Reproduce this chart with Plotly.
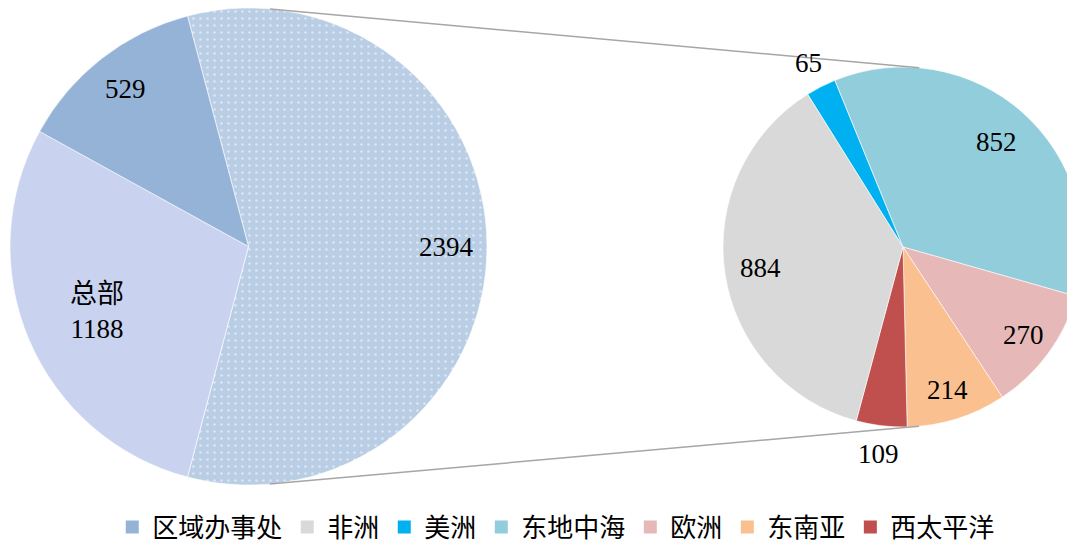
import math
import plotly.graph_objects as go

# ---------------- data ----------------
main_labels = ["其他地区", "总部", "区域办事处"]
main_values = [2394, 1188, 529]
main_text = ["2394", "总部<br>1188", "529"]

sub_labels = ["美洲", "东地中海", "欧洲", "东南亚", "西太平洋", "非洲"]
sub_values = [65, 852, 270, 214, 109, 884]

legend_labels = ["区域办事处", "非洲", "美洲", "东地中海", "欧洲", "东南亚", "西太平洋"]

# ---------------- styles / layout ----------------
W, H = 1075, 543
FONT = "Liberation Serif, 'Times New Roman', 'Noto Sans CJK SC', serif"
color_map = {
    "其他地区": "#B9CDE5",
    "总部": "#C9D3F0",
    "区域办事处": "#95B3D7",
    "非洲": "#D9D9D9",
    "美洲": "#00B0F0",
    "东地中海": "#92CDDC",
    "欧洲": "#E6B9B8",
    "东南亚": "#FAC090",
    "西太平洋": "#C0504D",
}
# label distance from centre, as a fraction of the radius
main_label_r = [0.83, 0.69, 0.84]
sub_label_r = [1.15, 0.78, 0.83, 0.83, 1.16, 0.80]

# pie domains (paper fractions)
main_dom_x = [2 / W, 479 / W]
main_dom_y = [1 - 477 / H, 1.0]
sub_dom_x = [715 / W, 1.0]
sub_dom_y = [1 - 419 / H, 1 - 59 / H]

main_total = sum(main_values)
main_rotation = 90 - 0.5 * 360 * main_values[0] / main_total  # "other" slice centred at 3 o'clock
sub_rotation = -32

fig = go.Figure()

fig.add_trace(go.Pie(
    labels=main_labels, values=main_values, sort=False, direction="clockwise",
    rotation=main_rotation, domain=dict(x=main_dom_x, y=main_dom_y),
    textinfo="none", showlegend=False,
    marker=dict(
        colors=[color_map[l] for l in main_labels],
        line=dict(color="white", width=0.6),
        pattern=dict(shape=[".", "", ""], fgcolor="white",
                     bgcolor=[color_map[l] for l in main_labels],
                     size=7, solidity=0.12, fillmode="overlay"),
    ),
))

fig.add_trace(go.Pie(
    labels=sub_labels, values=sub_values, sort=False, direction="clockwise",
    rotation=sub_rotation, domain=dict(x=sub_dom_x, y=sub_dom_y),
    textinfo="none", showlegend=False,
    marker=dict(colors=[color_map[l] for l in sub_labels],
                line=dict(color="white", width=0.6)),
))

# legend entries
for lab in legend_labels:
    fig.add_trace(go.Scatter(
        x=[None], y=[None], mode="markers", name=lab,
        marker=dict(symbol="square", size=13, color=color_map[lab]),
    ))


def pie_geom(dx, dy):
    cx = W * (dx[0] + dx[1]) / 2
    cy = H * (1 - (dy[0] + dy[1]) / 2)
    r = min(W * (dx[1] - dx[0]), H * (dy[1] - dy[0])) / 2
    return cx, cy, r


def add_labels(values, texts, fracs, dom_x, dom_y, rotation):
    cx, cy, r = pie_geom(dom_x, dom_y)
    total = sum(values)
    start = rotation
    for v, t, f in zip(values, texts, fracs):
        span = 360 * v / total
        mid = math.radians(start + span / 2)
        px = cx + f * r * math.sin(mid)
        py = cy - f * r * math.cos(mid)
        fig.add_annotation(x=px / W, y=1 - py / H, xref="paper", yref="paper",
                           text=t, showarrow=False, xanchor="center", yanchor="middle",
                           font=dict(family=FONT, size=27, color="black"))
        start += span


add_labels(main_values, main_text, main_label_r, main_dom_x, main_dom_y, main_rotation)
add_labels(sub_values, [str(v) for v in sub_values], sub_label_r, sub_dom_x, sub_dom_y, sub_rotation)

# series lines: external tangents between the two pies
c1x, c1y, r1 = pie_geom(main_dom_x, main_dom_y)
c2x, c2y, r2 = pie_geom(sub_dom_x, sub_dom_y)
dxv, dyv = c2x - c1x, c2y - c1y
L = math.hypot(dxv, dyv)
ux, uy = dxv / L, dyv / L
ca = (r1 - r2) / L
sa = math.sqrt(1 - ca * ca)
for sgn in (-1, 1):
    nx = ux * ca - sgn * uy * sa
    ny = uy * ca + sgn * ux * sa
    x0, y0 = c1x + r1 * nx, c1y + r1 * ny
    x1, y1 = c2x + r2 * nx, c2y + r2 * ny
    fig.add_shape(type="line", xref="paper", yref="paper",
                  x0=x0 / W, y0=1 - y0 / H, x1=x1 / W, y1=1 - y1 / H,
                  line=dict(color="#A6A6A6", width=1.5))

fig.update_layout(
    width=W, height=H,
    margin=dict(l=0, r=0, t=0, b=0),
    paper_bgcolor="white", plot_bgcolor="white",
    xaxis=dict(visible=False), yaxis=dict(visible=False),
    font=dict(family=FONT, color="black"),
    legend=dict(orientation="h", x=0.51, xanchor="center", y=1 - 519 / H, yanchor="middle",
                font=dict(family=FONT, size=26, color="black"),
                itemwidth=30, bgcolor="rgba(0,0,0,0)"),
)

fig.write_html("out.html")
